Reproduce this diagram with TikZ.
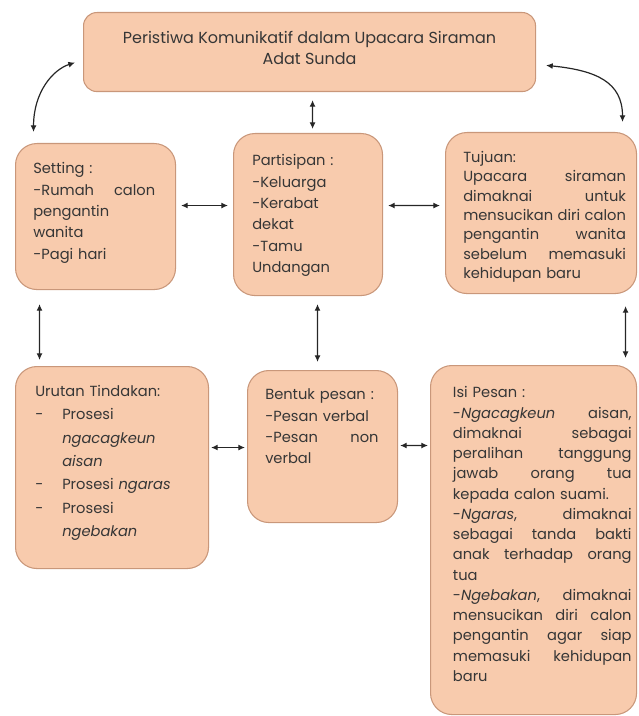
\documentclass[tikz,border=0pt]{standalone}
\usepackage{fontspec}
\setmainfont{Poppins}
\usepackage{tikz}
\usetikzlibrary{positioning, arrows.meta}
\usepackage{xcolor}
\definecolor{peach}{HTML}{F8CBAD}
\definecolor{peachline}{HTML}{C9977A}
\definecolor{ink}{HTML}{363636}
\hyphenpenalty=10000

\begin{document}
\begin{tikzpicture}[
  x=0.75pt, y=-0.75pt,
  box/.style={draw=peachline, fill=peach, line width=0.8pt, rounded corners=16pt,
              inner sep=0pt, anchor=north west},
  txt/.style={anchor=north west, inner sep=0pt, align=left, text=ink,
              font=\fontsize{11}{16}\selectfont},
  link/.style={<->, >={Latex[length=5pt,width=4.5pt]}, line width=0.9pt, black!85}
]
  \useasboundingbox (0,0) rectangle (638,716);

  % --- boxes ---
  \node[box, rounded corners=10pt, minimum width=339pt, minimum height=59.25pt] (title) at (83,12) {};
  \node[box, minimum width=120pt, minimum height=109.5pt] (setting) at (15,143) {};
  \node[box, minimum width=111.75pt, minimum height=121.5pt] (partisipan) at (233,133) {};
  \node[box, minimum width=143.25pt, minimum height=120.75pt] (tujuan) at (445,132) {};
  \node[box, minimum width=144.75pt, minimum height=151.5pt] (urutan) at (15,366) {};
  \node[box, minimum width=112.5pt, minimum height=114pt] (bentuk) at (247,370) {};
  \node[box, minimum width=154.5pt, minimum height=261.75pt] (isi) at (430,365) {};

  % --- texts ---
  \node[txt, anchor=center, align=center, font=\fontsize{12}{16}\selectfont] (title-t) at ([yshift=3pt]title.center)
    {Peristiwa Komunikatif dalam Upacara Siraman\\Adat Sunda};
  \node[txt, text width=91.5pt] (setting-t) at ([xshift=13.5pt,yshift=-14.5pt]setting.north west)
    {Setting :\\
     -Rumah\hfill calon\\
     pengantin\\
     wanita\\
     -Pagi hari};
  \node[txt, text width=85pt] (partisipan-t) at ([xshift=14.25pt,yshift=-16pt]partisipan.north west)
    {Partisipan :\\
     -Keluarga\\
     -Kerabat\\
     dekat\\
     -Tamu\\
     Undangan};
  \node[txt, text width=122pt, font=\fontsize{11}{14.6}\selectfont] (tujuan-t) at ([xshift=13.5pt,yshift=-14pt]tujuan.north west)
    {Tujuan:\\
     Upacara\hfill siraman\\
     dimaknai\hfill untuk\\
     mensucikan\hfill diri\hfill calon\\
     pengantin\hfill wanita\\
     sebelum\hfill memasuki\\
     kehidupan baru};
  \node[txt, text width=112.5pt, font=\fontsize{11}{17.6}\selectfont] (urutan-t) at ([xshift=15pt,yshift=-14pt]urutan.north west)
    {Urutan Tindakan:\\
     \makebox[20.25pt][l]{-}Prosesi\\
     \hspace*{20.25pt}\textit{ngacagkeun}\\
     \hspace*{20.25pt}\textit{aisan}\\
     \makebox[20.25pt][l]{-}Prosesi \textit{ngaras}\\
     \makebox[20.25pt][l]{-}Prosesi\\
     \hspace*{20.25pt}\textit{ngebakan}};
  \node[txt, text width=85pt] (bentuk-t) at ([xshift=13.5pt,yshift=-14pt]bentuk.north west)
    {Bentuk pesan :\\
     -Pesan verbal\\
     -Pesan\hfill non\\
     verbal};
  \node[txt, text width=134pt, font=\fontsize{11}{15.2}\selectfont] (isi-t) at ([xshift=17pt,yshift=-16pt]isi.north west)
    {Isi Pesan :\\
     -\textit{Ngacagkeun}\hfill aisan,\\
     dimaknai\hfill sebagai\\
     peralihan\hfill tanggung\\
     jawab\hfill orang\hfill tua\\
     kepada calon suami.\\
     -\textit{Ngaras},\hfill dimaknai\\
     sebagai\hfill tanda\hfill bakti\\
     anak\hfill terhadap\hfill orang\\
     tua\\
     -\textit{Ngebakan},\hfill dimaknai\\
     mensucikan\hfill diri\hfill calon\\
     pengantin\hfill agar\hfill siap\\
     memasuki\hfill kehidupan\\
     baru};

  % --- arrows ---
  \draw[link] ([xshift=-46.5pt,yshift=8.25pt]setting.north)
    .. controls +(0,-40) and +(-22,7) .. ([xshift=-6pt,yshift=-7.9pt]title.west);
  \draw[link] ([xshift=7.5pt,yshift=-10pt]title.east)
    .. controls +(50,5) and +(0,-40) .. ([xshift=61.1pt,yshift=7.5pt]tujuan.north);
  \draw[link, shorten <=6pt, shorten >=3pt] ([xshift=2.25pt]title.south) -- ([xshift=3.4pt]partisipan.north);

  \draw[link, shorten <=3.75pt, shorten >=3.75pt] ([yshift=8.25pt]setting.east) -- ([yshift=6.75pt]partisipan.west);
  \draw[link, shorten <=3.75pt, shorten >=3.75pt] ([yshift=6.75pt]partisipan.east) -- ([yshift=5.6pt]tujuan.west);

  \draw[link, shorten <=10.5pt, shorten >=4.5pt] ([xshift=-42pt]setting.south) -- ([xshift=-54.4pt]urutan.north);
  \draw[link, shorten <=6pt, shorten >=6pt] ([xshift=7.1pt]partisipan.south) -- ([xshift=-3.75pt]bentuk.north);
  \draw[link, shorten <=9pt, shorten >=5.25pt] ([xshift=63.4pt]tujuan.south) -- ([xshift=69pt]isi.north);

  \draw[link, shorten <=1.5pt, shorten >=1.5pt] ([yshift=15pt]urutan.east) -- ([yshift=-0.75pt]bentuk.west);
  \draw[link, shorten <=1.5pt, shorten >=1.5pt] ([yshift=0.75pt]bentuk.east) -- ([yshift=70.9pt]isi.west);
\end{tikzpicture}
\end{document}
